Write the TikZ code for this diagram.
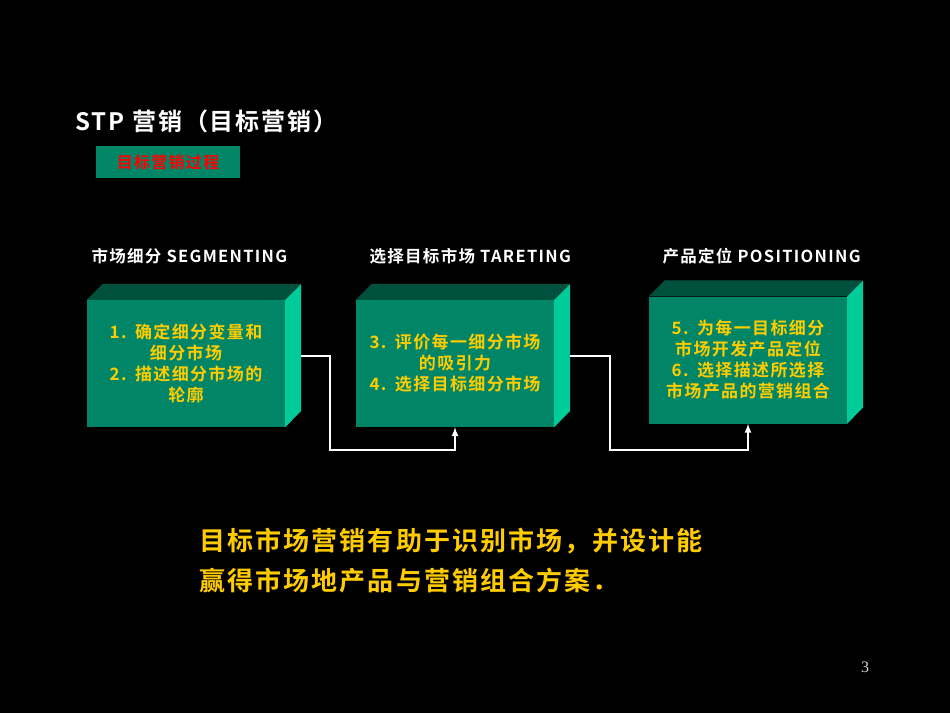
\documentclass[tikz,border=0pt]{standalone}
\usepackage{fontspec}
\setmainfont{Liberation Serif}
\newfontfamily\cjk{Noto Sans CJK SC}[BoldFont={* Bold},LetterSpace=8]
\usetikzlibrary{positioning}
\definecolor{frontgreen}{RGB}{0,134,102}
\definecolor{topgreen}{RGB}{0,80,62}
\definecolor{sidegreen}{RGB}{0,204,153}
\definecolor{boxtext}{RGB}{255,204,0}
\tikzset{
  front/.style={fill=frontgreen,minimum width=198pt,minimum height=127pt,inner sep=0pt,
    text=boxtext,font=\cjk\bfseries\fontsize{17}{21}\selectfont,align=center,text width=198pt},
  head/.style={text=white,font=\cjk\bfseries\fontsize{16.5}{18}\selectfont,anchor=west},
  link/.style={draw=white,line width=2pt,-latex}
}
\newcommand{\cube}[1]{%
  \fill[topgreen](#1.north west)--++(16,16)--++(198,0)--(#1.north east)--cycle;
  \fill[sidegreen](#1.north east)--++(16,16)--++(0,-127)--(#1.south east)--cycle;}
\begin{document}
\begin{tikzpicture}[x=1pt,y=1pt]
  \fill[black](0,0) rectangle (950,-713);
  \useasboundingbox (0,0) rectangle (950,-713);

  \node[anchor=west,text=white,font=\cjk\bfseries\fontsize{24}{28}\selectfont](title) at (72,-121) {STP 营销（目标营销）};
  \node[fill=frontgreen,draw=black,text=red,font=\cjk\bfseries\fontsize{16}{18}\selectfont,
    minimum width=145pt,minimum height=33pt](tag) at (168,-162) {目标营销过程};

  \node[head](h1) at (88,-256) {市场细分 SEGMENTING};
  \node[head](h2) at (366,-256) {选择目标市场 TARETING};
  \node[head](h3) at (659,-256) {产品定位 POSITIONING};

  \node[front](b1) at (186,-363.5) {1. 确定细分变量和\\细分市场\\2. 描述细分市场的\\轮廓};
  \node[front](b2) at (455,-363.5) {3. 评价每一细分市场\\的吸引力\\4. 选择目标细分市场};
  \node[front](b3) at (748,-360) {5. 为每一目标细分\\市场开发产品定位\\6. 选择描述所选择\\市场产品的营销组合};
  \cube{b1}
  \cube{b2}
  \cube{b3}

  \coordinate (o1) at ([xshift=16pt,yshift=8pt]b1.east);
  \coordinate (o2) at ([xshift=16pt,yshift=8pt]b2.east);
  \draw[link](o1)-|(330,-450)-|(b2.south);
  \draw[link](o2)-|(610,-450)-|(b3.south);

  \node[anchor=west,text=boxtext,font=\cjk\bfseries\fontsize{26}{40}\selectfont,align=left](note) at (196,-561)
    {目标市场营销有助于识别市场，并设计能\\赢得市场地产品与营销组合方案．};
  \node[text=white!85!black,font=\fontsize{16}{18}\selectfont](page) at (865,-667) {3};
\end{tikzpicture}
\end{document}
